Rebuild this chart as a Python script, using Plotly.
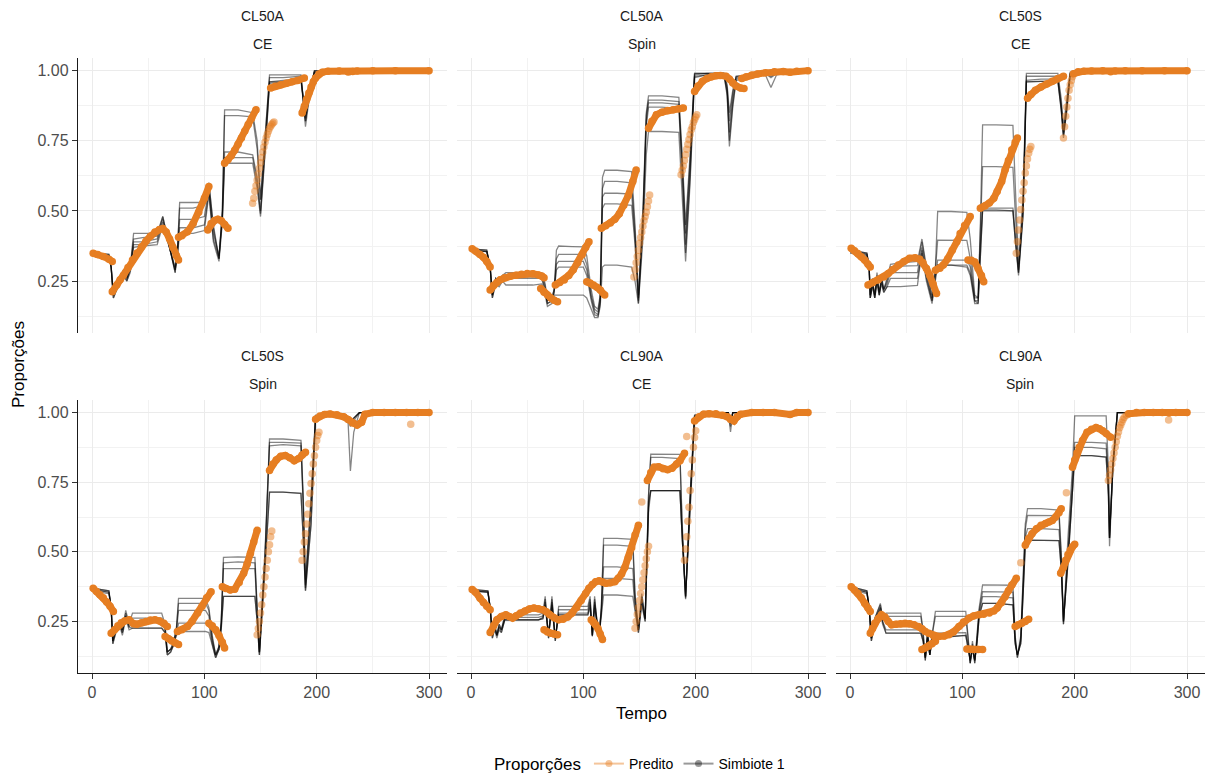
import plotly.graph_objects as go

W, H = 1219, 776
ORANGE = "#E67E22"
ORANGE_A = "rgba(230,126,34,0.5)"
GRAY = "rgba(0,0,0,0.48)"

FACET_TOP = ["CL50A", "CL50A", "CL50S", "CL50S", "CL90A", "CL90A"]
FACET_BOT = ["CE", "Spin", "CE", "Spin", "CE", "Spin"]
X_TICKS = [0, 100, 200, 300]
Y_TICKS = [0.25, 0.50, 0.75, 1.00]
Y_TICK_TEXT = ["0.25", "0.50", "0.75", "1.00"]

# ---------------- Panel 1: CL50A / CE ----------------
G1_T = [0, 15, 17, 19, 22, 25, 28, 31, 34, 37,
        45, 58, 63, 74, 76, 78, 90, 100, 104, 108,
        113, 116, 118, 130, 143, 147, 150, 155, 158, 170,
        186, 190, 194, 198, 228, 230, 232, 300]
G1_Y = [
    [.35, .345, .30, .20, .24, .25, .29, .26, .30, .42,
     .42, .42, .48, .28, .36, .53, .53, .53, .60, .45,
     .33, .50, .86, .86, .85, .75, .54, .80, .985, .985,
     .985, .80, .92, 1.0, 1.0, .985, 1.0, 1.0],
    [.35, .345, .30, .20, .24, .25, .29, .26, .30, .40,
     .405, .41, .48, .28, .36, .51, .51, .52, .60, .44,
     .33, .50, .84, .84, .835, .72, .54, .80, .975, .975,
     .98, .82, .93, 1.0, 1.0, .99, 1.0, 1.0],
    [.345, .34, .30, .20, .23, .25, .28, .26, .29, .39,
     .39, .40, .47, .29, .35, .47, .47, .48, .58, .42,
     .34, .48, .71, .71, .70, .62, .50, .78, .96, .965,
     .97, .84, .94, .995, 1.0, .99, 1.0, 1.0],
    [.345, .34, .30, .19, .22, .24, .28, .25, .29, .38,
     .38, .39, .46, .29, .35, .44, .44, .45, .57, .40,
     .33, .47, .69, .69, .69, .60, .49, .77, .96, .96,
     .97, .83, .94, .995, 1.0, .99, 1.0, 1.0],
    [.345, .34, .30, .19, .22, .24, .27, .25, .28, .37,
     .375, .38, .45, .30, .34, .42, .42, .43, .56, .39,
     .32, .46, .67, .67, .67, .58, .48, .76, .955, .96,
     .965, .82, .93, .995, 1.0, .99, 1.0, 1.0],
]
P1_SEGS = [
    ([1, 5, 10, 15, 18], [.349, .345, .338, .328, .320], "s"),
    ([18, 22, 25, 28, 32, 36, 40, 44, 48, 52, 56, 60, 63, 66, 69, 72, 75, 77],
     [.212, .236, .255, .271, .298, .325, .35, .372, .392, .41, .425, .434, .437, .425, .40, .37, .34, .325], "s"),
    ([77, 80, 85, 90, 95, 100, 104], [.406, .412, .426, .455, .495, .545, .587], "s"),
    ([103, 106, 109, 112, 115, 118, 121], [.432, .455, .466, .47, .465, .452, .438], "s"),
    ([118, 121, 124, 127, 130, 133, 136, 139, 142, 146],
     [.670, .682, .697, .716, .738, .760, .785, .808, .830, .861], "s"),
    ([143, 144, 145, 146, 147, 148, 149, 150, 151, 152, 153, 154, 155, 156, 157, 158, 159, 160, 161, 162],
     [.527, .545, .57, .59, .61, .632, .652, .672, .69, .71, .728, .745, .76, .772, .784, .795, .802, .808, .813, .817], "p"),
    ([159, 163, 168, 173, 178, 183, 189], [.938, .944, .95, .955, .96, .965, .974], "s"),
    ([187, 189, 191, 193, 195, 197, 199, 202, 205, 210, 220, 228, 232, 236, 250, 270, 300],
     [.849, .873, .898, .92, .942, .96, .974, .988, .994, .998, .999, .995, .997, .999, 1.0, 1.0, 1.0], "s"),
]

# ---------------- Panel 2: CL50A / Spin ----------------
G2_T = [0, 14, 17, 19, 22, 25, 28, 31, 40, 55,
        63, 66, 68, 72, 74, 76, 78, 90, 100, 103,
        107, 110, 113, 115, 117, 119, 130, 143, 146, 149,
        153, 156, 158, 170, 185, 188, 191, 195, 199, 210,
        225, 228, 230, 233, 236, 262, 267, 272, 300]
G2_Y = [
    [.365, .36, .30, .20, .26, .25, .27, .28, .28, .28,
     .28, .24, .18, .19, .22, .36, .375, .373, .372, .34,
     .22, .16, .15, .20, .62, .645, .645, .64, .45, .20,
     .50, .85, .91, .91, .905, .70, .45, .70, .99, .99,
     .99, .95, .85, .93, .98, .99, .99, .99, 1.0],
    [.365, .36, .30, .20, .26, .25, .27, .27, .275, .275,
     .275, .23, .18, .19, .22, .33, .345, .345, .345, .31,
     .20, .15, .14, .19, .58, .605, .605, .60, .42, .19,
     .48, .84, .895, .895, .89, .68, .42, .68, .99, .99,
     .99, .94, .82, .92, .98, .99, .99, .99, 1.0],
    [.36, .355, .30, .20, .25, .24, .26, .265, .265, .265,
     .265, .22, .17, .18, .21, .31, .32, .32, .32, .29,
     .19, .14, .13, .18, .55, .563, .563, .56, .40, .18,
     .46, .82, .885, .885, .88, .65, .38, .65, .985, .99,
     .99, .93, .78, .90, .975, .99, .98, .99, 1.0],
    [.36, .355, .30, .19, .25, .24, .26, .26, .26, .26,
     .26, .21, .17, .18, .21, .29, .30, .30, .30, .27,
     .18, .13, .125, .17, .51, .525, .525, .52, .38, .17,
     .44, .80, .87, .87, .865, .62, .35, .62, .98, .985,
     .99, .92, .75, .88, .97, .99, .975, .99, 1.0],
    [.36, .355, .30, .19, .24, .23, .25, .236, .236, .236,
     .24, .20, .16, .17, .20, .20, .20, .20, .20, .19,
     .15, .12, .12, .16, .30, .307, .307, .30, .25, .17,
     .40, .70, .783, .783, .78, .55, .32, .60, .975, .985,
     .99, .91, .73, .87, .965, .985, .94, .985, 1.0],
]
P2_SEGS = [
    ([1, 4, 8, 11, 14, 17], [.365, .357, .345, .335, .32, .30], "s"),
    ([17, 20, 23, 26, 30, 35, 40, 45, 50, 55, 60, 63, 65],
     [.218, .235, .245, .255, .262, .267, .271, .274, .277, .276, .272, .268, .262], "s"),
    ([62, 65, 68, 71, 74, 77], [.224, .21, .20, .19, .182, .176], "s"),
    ([75, 79, 83, 87, 91, 95, 99, 102, 105], [.236, .245, .254, .27, .29, .315, .345, .37, .39], "s"),
    ([103, 106, 109, 112, 115, 119], [.248, .243, .236, .228, .218, .20], "s"),
    ([116, 120, 124, 128, 132, 136, 140, 144, 147], [.438, .447, .457, .47, .49, .52, .555, .605, .646], "s"),
    ([145, 146, 147, 148, 149, 150, 151, 152, 153, 154, 155, 156, 157, 158, 159],
     [.265, .29, .315, .338, .36, .385, .405, .425, .445, .465, .48, .495, .515, .535, .557], "p"),
    ([158, 161, 165, 170, 175, 180, 185, 189], [.795, .82, .843, .852, .858, .861, .864, .867], "s"),
    ([187, 188, 189, 190, 191, 192, 193, 194, 195, 196, 197, 198, 199, 200, 201],
     [.629, .645, .66, .68, .70, .72, .738, .755, .772, .789, .80, .815, .825, .835, .843], "p"),
    ([199, 202, 206, 210, 214, 218, 222, 227, 230, 233, 236, 240, 243],
     [.926, .945, .962, .972, .978, .982, .983, .98, .97, .956, .945, .938, .936], "s"),
    ([241, 245, 250, 255, 262, 270, 278, 284, 290, 300],
     [.972, .978, .984, .988, .992, .996, .997, .994, .998, 1.0], "s"),
]

# ---------------- Panel 3: CL50S / CE ----------------
G3_T = [0, 15, 17, 18, 20, 22, 24, 26, 28, 30,
        33, 36, 45, 60, 64, 68, 73, 76, 78, 90,
        104, 107, 111, 114, 116, 118, 130, 145, 147, 150,
        154, 157, 170, 185, 188, 190, 193, 196, 230, 232,
        234, 300]
G3_Y = [
    [.36, .35, .30, .20, .26, .19, .28, .20, .27, .22,
     .26, .31, .315, .32, .40, .30, .20, .30, .498, .498,
     .495, .40, .20, .19, .45, .807, .807, .805, .60, .31,
     .55, .99, .99, .99, .90, .80, .90, .995, 1.0, .99,
     1.0, 1.0],
    [.36, .35, .30, .20, .25, .20, .27, .21, .26, .22,
     .25, .30, .303, .305, .39, .29, .19, .29, .396, .396,
     .395, .33, .19, .19, .40, .658, .658, .655, .50, .29,
     .52, .98, .98, .98, .88, .78, .88, .99, 1.0, .99,
     1.0, 1.0],
    [.355, .345, .30, .19, .24, .20, .26, .21, .25, .22,
     .24, .28, .28, .28, .37, .27, .18, .28, .325, .325,
     .325, .30, .18, .18, .38, .51, .51, .51, .42, .28,
     .50, .965, .97, .97, .87, .77, .87, .99, 1.0, .99,
     1.0, 1.0],
    [.355, .345, .30, .19, .24, .19, .25, .20, .25, .21,
     .23, .23, .23, .235, .36, .26, .18, .27, .307, .307,
     .307, .28, .18, .17, .36, .504, .504, .50, .40, .28,
     .49, .96, .962, .962, .86, .77, .86, .985, 1.0, .99,
     1.0, 1.0],
    [.35, .34, .30, .19, .23, .19, .24, .20, .24, .21,
     .23, .26, .26, .26, .35, .25, .17, .26, .307, .307,
     .30, .27, .17, .17, .35, .50, .50, .50, .40, .27,
     .48, .96, .962, .962, .86, .76, .86, .985, 1.0, .99,
     1.0, 1.0],
]
P3_SEGS = [
    ([1, 4, 7, 10, 13, 16, 18], [.367, .358, .348, .337, .325, .31, .30], "s"),
    ([16, 20, 25, 30, 34, 38, 43, 48, 53, 58, 62, 65, 68, 71, 74, 77],
     [.236, .244, .254, .265, .277, .29, .307, .32, .331, .333, .328, .315, .295, .27, .24, .206], "s"),
    ([76, 80, 83, 87, 91, 95, 98, 102, 107], [.289, .296, .307, .33, .36, .39, .42, .448, .48], "s"),
    ([105, 108, 111, 114, 117, 119], [.325, .324, .318, .295, .27, .248], "s"),
    ([116, 120, 124, 128, 131, 135, 138, 141, 144, 147, 149],
     [.51, .518, .528, .545, .569, .605, .646, .68, .718, .745, .76], "s"),
    ([148, 149, 150, 151, 152, 153, 154, 155, 156, 157, 158, 159, 160, 161],
     [.349, .39, .432, .468, .505, .539, .57, .60, .635, .66, .685, .706, .72, .73], "p"),
    ([158, 161, 165, 170, 175, 180, 185, 190], [.902, .915, .93, .942, .952, .962, .972, .98], "s"),
    ([190, 191, 192, 193, 194, 195, 196, 197, 198, 199],
     [.76, .80, .837, .87, .902, .93, .95, .965, .978, .989], "p"),
    ([199, 203, 208, 215, 225, 232, 236, 245, 260, 280, 300],
     [.989, .996, .998, .999, 1.0, .996, .999, 1.0, 1.0, 1.0, 1.0], "s"),
]

# ---------------- Panel 4: CL50S / Spin ----------------
G4_T = [0, 15, 17, 18.5, 22, 25, 27, 30, 33, 36,
        50, 62, 65, 67, 70, 72, 75, 77, 90, 101,
        104, 107, 110, 113, 115, 117, 130, 145, 147, 149,
        154, 158, 170, 186, 188, 190, 195, 199, 210, 226,
        228, 230, 233, 238, 300]
G4_Y = [
    [.37, .36, .30, .18, .24, .25, .22, .29, .24, .28,
     .28, .28, .24, .14, .15, .17, .22, .333, .333, .333,
     .30, .20, .13, .16, .25, .48, .482, .48, .30, .14,
     .50, .905, .905, .90, .70, .40, .70, .99, .99, .99,
     .98, .96, .98, 1.0, 1.0],
    [.37, .36, .30, .18, .24, .25, .22, .28, .24, .262,
     .262, .262, .23, .14, .15, .17, .22, .315, .315, .315,
     .29, .19, .13, .16, .25, .46, .464, .46, .29, .14,
     .49, .893, .893, .89, .68, .38, .68, .99, .99, .99,
     .98, .96, .98, 1.0, 1.0],
    [.365, .355, .30, .18, .23, .24, .21, .27, .23, .25,
     .25, .25, .22, .14, .15, .16, .21, .29, .29, .29,
     .27, .18, .13, .15, .24, .44, .44, .44, .28, .14,
     .48, .88, .885, .88, .66, .37, .66, .985, .99, .99,
     .97, .95, .97, 1.0, 1.0],
    [.365, .355, .30, .17, .23, .24, .21, .27, .23, .226,
     .226, .226, .21, .13, .14, .16, .20, .244, .244, .244,
     .24, .17, .12, .15, .23, .34, .34, .34, .25, .13,
     .45, .714, .714, .71, .55, .36, .60, .98, .99, .99,
     .96, .79, .93, 1.0, 1.0],
    [.36, .35, .30, .17, .22, .23, .20, .26, .22, .226,
     .226, .226, .21, .13, .14, .16, .20, .214, .214, .214,
     .21, .16, .12, .15, .22, .34, .34, .34, .25, .13,
     .44, .714, .714, .71, .55, .36, .60, .98, .99, .99,
     .97, .96, .98, 1.0, 1.0],
]
P4_SEGS = [
    ([1, 4, 7, 10, 13, 16, 19], [.369, .358, .346, .335, .32, .305, .286], "s"),
    ([17, 20, 23, 26, 29, 33, 37, 40, 44, 48, 52, 56, 60, 64, 67],
     [.208, .22, .235, .245, .252, .256, .242, .24, .245, .25, .255, .256, .252, .244, .232], "s"),
    ([65, 68, 71, 74, 77], [.196, .188, .18, .173, .167], "s"),
    ([76, 80, 85, 89, 94, 98, 102, 106], [.214, .22, .232, .25, .28, .305, .335, .357], "s"),
    ([104, 107, 110, 113, 116, 118], [.244, .235, .22, .20, .175, .155], "s"),
    ([116, 119, 123, 127, 131, 135, 138, 141, 144, 147],
     [.375, .368, .363, .366, .39, .423, .455, .494, .535, .577], "s"),
    ([147, 148, 149, 150, 151, 152, 153, 154, 155, 156, 157, 158, 159, 160],
     [.202, .225, .25, .28, .31, .345, .375, .41, .44, .47, .50, .525, .554, .575], "p"),
    ([158, 161, 164, 168, 172, 176, 180, 184, 187, 190],
     [.792, .815, .83, .843, .846, .838, .827, .835, .848, .857], "s"),
    ([187, 188, 189, 190, 191, 192, 193, 194, 195, 196, 197, 198, 199, 200, 201, 202],
     [.47, .50, .535, .565, .60, .635, .673, .71, .745, .78, .815, .845, .875, .90, .918, .929], "p"),
    ([199, 203, 207, 212, 218, 224, 228, 232, 236, 240, 243, 250, 260, 270, 280, 290, 300],
     [.976, .988, .993, .995, .992, .985, .975, .962, .955, .965, .994, 1.0, 1.0, 1.0, 1.0, 1.0, 1.0], "s"),
    ([283.7], [.958], "p"),
]

# ---------------- Panel 5: CL90A / CE ----------------
G5_T = [0, 15, 17, 19, 21, 23, 25, 27, 30, 45,
        60, 64, 66, 69, 72, 75, 78, 90, 104, 106,
        108, 110, 112, 114, 116, 118, 120, 130, 144, 146,
        149, 152, 155, 158, 160, 170, 186, 188, 191, 195,
        199, 210, 229, 231, 233, 300]
G5_Y = [
    [.365, .36, .30, .20, .24, .20, .24, .22, .274, .274,
     .274, .28, .34, .19, .34, .18, .304, .304, .304, .34,
     .196, .34, .25, .196, .30, .548, .548, .548, .545, .35,
     .22, .35, .26, .70, .851, .851, .85, .60, .333, .70,
     .99, 1.0, 1.0, .93, 1.0, 1.0],
    [.365, .36, .30, .20, .24, .20, .24, .22, .265, .265,
     .265, .27, .33, .19, .33, .18, .292, .292, .292, .33,
     .20, .33, .25, .20, .30, .524, .524, .524, .52, .34,
     .22, .34, .26, .70, .839, .839, .835, .58, .33, .70,
     .99, 1.0, 1.0, .95, 1.0, 1.0],
    [.36, .355, .30, .20, .23, .20, .23, .22, .256, .256,
     .256, .265, .32, .20, .32, .19, .28, .28, .28, .32,
     .20, .32, .25, .20, .29, .446, .446, .446, .44, .32,
     .22, .33, .26, .68, .72, .72, .72, .55, .34, .68,
     .985, 1.0, 1.0, .96, 1.0, 1.0],
    [.36, .355, .30, .19, .23, .20, .23, .21, .256, .256,
     .256, .26, .31, .20, .31, .19, .274, .274, .274, .31,
     .20, .31, .24, .20, .28, .405, .405, .405, .40, .30,
     .21, .32, .25, .66, .72, .72, .72, .55, .34, .66,
     .985, 1.0, 1.0, .97, 1.0, 1.0],
    [.36, .355, .30, .19, .22, .19, .22, .21, .256, .256,
     .256, .26, .30, .20, .30, .19, .274, .274, .274, .30,
     .20, .30, .24, .20, .27, .345, .345, .345, .34, .28,
     .21, .31, .25, .64, .72, .72, .72, .55, .34, .64,
     .985, 1.0, 1.0, .97, 1.0, 1.0],
]
P5_SEGS = [
    ([1, 4, 8, 11, 14, 17], [.365, .355, .333, .318, .305, .292], "s"),
    ([17, 20, 23, 27, 31, 34, 37, 40, 44, 48, 52, 56, 60, 64, 67, 70, 74, 78, 82, 86,
      90, 94, 98, 102, 105, 108, 111, 114, 117, 120, 124, 128, 131, 134, 137, 140, 143, 146, 149],
     [.21, .235, .256, .268, .274, .268, .262, .27, .28, .288, .295, .298, .296, .292, .285, .274, .263, .256, .258, .266,
      .28, .30, .325, .35, .369, .383, .393, .396, .392, .387, .389, .393, .405, .42, .445, .48, .515, .56, .595], "s"),
    ([65, 68, 71, 74, 77], [.22, .212, .208, .205, .202], "s"),
    ([107, 109, 111, 113, 115, 117], [.256, .248, .238, .225, .205, .185], "s"),
    ([146, 147, 148, 149, 150, 151, 152, 153, 154, 155, 156, 157, 158],
     [.226, .25, .275, .30, .325, .35, .375, .40, .425, .45, .475, .50, .52], "p"),
    ([152], [.679], "p"),
    ([157, 160, 163, 167, 171, 175, 179, 183, 186, 190],
     [.756, .785, .804, .805, .798, .795, .80, .815, .827, .854], "s"),
    ([190, 191, 192, 193, 194, 195, 196, 197, 198, 199, 200],
     [.47, .51, .554, .61, .66, .72, .78, .83, .875, .91, .935], "p"),
    ([192], [.914], "p"),
    ([199, 203, 207, 212, 218, 224, 228, 231, 234, 237, 240, 250, 260, 270, 284, 290, 300],
     [.97, .985, .994, .996, .996, .99, .985, .975, .97, .985, .994, 1.0, 1.0, 1.0, .993, 1.0, 1.0], "s"),
]

# ---------------- Panel 6: CL90A / Spin ----------------
G6_T = [0, 15, 17, 19, 22, 27, 29, 32, 45, 63,
        65, 67, 69, 71, 73, 76, 78, 90, 103, 105,
        107, 109, 111, 113, 115, 118, 120, 130, 145, 147,
        149, 152, 154, 156, 158, 170, 186, 188, 190, 194,
        198, 200, 215, 228, 230, 231, 234, 238, 300]
G6_Y = [
    [.375, .36, .30, .19, .26, .315, .26, .28, .28, .28,
     .22, .11, .22, .13, .20, .286, .286, .286, .286, .20,
     .10, .18, .10, .20, .30, .381, .381, .381, .38, .20,
     .12, .20, .40, .60, .655, .655, .65, .50, .24, .55,
     .80, .988, .988, .988, .80, .52, .80, 1.0, 1.0],
    [.375, .36, .30, .19, .26, .31, .26, .268, .268, .268,
     .21, .11, .21, .13, .20, .268, .268, .268, .268, .19,
     .10, .17, .10, .19, .29, .357, .357, .357, .355, .19,
     .12, .19, .38, .58, .631, .631, .63, .48, .24, .50,
     .75, .893, .893, .89, .78, .55, .82, 1.0, 1.0],
    [.37, .355, .30, .19, .25, .30, .25, .22, .22, .22,
     .19, .12, .20, .13, .19, .208, .208, .208, .21, .17,
     .10, .16, .11, .18, .28, .339, .339, .339, .335, .18,
     .13, .18, .36, .55, .583, .583, .58, .46, .25, .48,
     .72, .875, .875, .87, .75, .55, .82, 1.0, 1.0],
    [.37, .355, .30, .18, .25, .30, .25, .208, .208, .208,
     .18, .12, .19, .13, .18, .196, .196, .196, .20, .16,
     .11, .15, .11, .17, .27, .315, .315, .315, .31, .17,
     .13, .17, .34, .52, .542, .542, .54, .44, .25, .46,
     .70, .845, .845, .84, .70, .55, .80, 1.0, 1.0],
    [.365, .35, .30, .18, .24, .29, .24, .208, .208, .208,
     .18, .12, .19, .13, .18, .196, .196, .196, .20, .16,
     .11, .15, .11, .17, .27, .315, .315, .315, .31, .17,
     .13, .17, .34, .52, .542, .542, .54, .44, .25, .46,
     .70, .845, .845, .84, .70, .55, .80, 1.0, 1.0],
]
P6_SEGS = [
    ([1, 4, 7, 10, 13, 16, 18], [.375, .363, .351, .335, .315, .298, .286], "s"),
    ([18, 20, 22, 25, 28, 31, 34, 37, 41, 45, 49, 53, 57, 61, 64, 67],
     [.208, .225, .244, .26, .274, .266, .25, .238, .24, .242, .244, .242, .238, .232, .224, .214], "s"),
    ([64, 67, 70, 73, 76], [.149, .155, .161, .17, .179], "s"),
    ([70, 74, 79, 84, 88, 92, 97, 101, 106, 110, 115, 119, 124, 128, 131, 135, 138, 141, 144, 148],
     [.208, .2, .196, .198, .202, .212, .232, .248, .262, .27, .274, .276, .28, .288, .298, .318, .339, .36, .381, .405], "s"),
    ([104, 107, 110, 114, 118], [.151, .15, .149, .149, .149], "s"),
    ([147, 150, 153, 156, 159], [.232, .238, .244, .25, .258], "s"),
    ([152], [.461], "p"),
    ([156, 159, 162, 166, 170, 174, 177, 180, 183, 186, 188],
     [.524, .548, .565, .583, .595, .602, .607, .612, .625, .64, .655], "s"),
    ([192.6], [.712], "p"),
    ([187.5, 190, 192, 194, 196, 198, 200], [.423, .445, .47, .49, .506, .518, .527], "s"),
    ([198, 200, 202, 204, 207, 211, 215, 219, 222, 225, 228, 232],
     [.804, .83, .855, .875, .9, .929, .94, .946, .942, .935, .925, .911], "s"),
    ([230, 231, 232, 233, 234, 235, 236, 237, 238, 239, 240, 241, 242, 243, 244, 246, 248],
     [.756, .775, .795, .815, .835, .855, .875, .895, .915, .93, .945, .955, .965, .975, .982, .99, .996], "p"),
    ([248, 255, 262, 270, 278, 284, 290, 300], [.996, 1.0, 1.0, 1.0, 1.0, .998, 1.0, 1.0], "s"),
    ([283.6], [.973], "p"),
]

GRAY_T = [G1_T, G2_T, G3_T, G4_T, G5_T, G6_T]
GRAY_Y = [G1_Y, G2_Y, G3_Y, G4_Y, G5_Y, G6_Y]
PRED = [P1_SEGS, P2_SEGS, P3_SEGS, P4_SEGS, P5_SEGS, P6_SEGS]

for gt, gys in zip(GRAY_T, GRAY_Y):
    for gy in gys:
        assert len(gt) == len(gy), (len(gt), len(gy))
for segs in PRED:
    for st, sy, _ in segs:
        assert len(st) == len(sy)

# ---------------- layout geometry (pixels) ----------------
XDOM = [(78, 447), (457, 826), (836, 1205)]
YDOM = [(58, 333), (400, 673)]
XRANGE = [-12.5, 316]
YRANGE = [0.065, 1.045]

FONT = "Liberation Sans, Arial, sans-serif"
fig = go.Figure()
TICK_FONT = dict(family=FONT, size=16, color="#4D4D4D")

for k in range(6):
    r, c = divmod(k, 3)
    sfx = "" if k == 0 else str(k + 1)
    xa, ya = "x" + sfx, "y" + sfx
    for gy in GRAY_Y[k]:
        fig.add_trace(go.Scatter(x=GRAY_T[k], y=gy, mode="lines",
                                 line=dict(color=GRAY, width=1.3),
                                 xaxis=xa, yaxis=ya, showlegend=False, hoverinfo="skip"))
    for st, sy, kind in PRED[k]:
        if kind == "s":
            fig.add_trace(go.Scatter(x=st, y=sy, mode="lines+markers",
                                     line=dict(color=ORANGE, width=7),
                                     marker=dict(color=ORANGE, size=7.5, line=dict(width=0)),
                                     xaxis=xa, yaxis=ya, showlegend=False, hoverinfo="skip"))
        else:
            fig.add_trace(go.Scatter(x=st, y=sy, mode="markers",
                                     marker=dict(color=ORANGE_A, size=7.5, line=dict(width=0)),
                                     xaxis=xa, yaxis=ya, showlegend=False, hoverinfo="skip"))
    x0, x1 = XDOM[c]
    y0, y1 = YDOM[r]
    bottom = (r == 1)
    left = (c == 0)
    fig.layout["xaxis" + sfx] = dict(
        domain=[x0 / W, x1 / W], range=XRANGE, anchor=ya,
        tickvals=X_TICKS, showticklabels=bottom, tickfont=TICK_FONT,
        showgrid=True, gridcolor="#EBEBEB", gridwidth=1.1, zeroline=False,
        showline=bottom, linecolor="#1A1A1A", linewidth=1.4,
        ticks="outside" if bottom else "", ticklen=5, tickcolor="#333333", tickwidth=1.1,
        minor=dict(tickvals=[50, 150, 250], showgrid=True, gridcolor="#F2F2F2", gridwidth=0.8, ticks=""),
        fixedrange=True,
    )
    fig.layout["yaxis" + sfx] = dict(
        domain=[1 - y1 / H, 1 - y0 / H], range=YRANGE, anchor=xa,
        tickvals=Y_TICKS, ticktext=Y_TICK_TEXT, showticklabels=left, tickfont=TICK_FONT,
        showgrid=True, gridcolor="#EBEBEB", gridwidth=1.1, zeroline=False,
        showline=left, linecolor="#1A1A1A", linewidth=1.4,
        ticks="outside" if left else "", ticklen=5, tickcolor="#333333", tickwidth=1.1,
        minor=dict(tickvals=[0.125, 0.375, 0.625, 0.875], showgrid=True, gridcolor="#F2F2F2", gridwidth=0.8, ticks=""),
        fixedrange=True,
    )
    cx = (x0 + x1) / 2 / W
    ytop = [16, 356][r]
    ybot = [44, 384][r]
    for txt, yp in ((FACET_TOP[k], ytop), (FACET_BOT[k], ybot)):
        fig.add_annotation(x=cx, y=1 - yp / H, xref="paper", yref="paper", text=txt,
                           showarrow=False, xanchor="center", yanchor="middle",
                           font=dict(family=FONT, size=14, color="#1A1A1A"))

# axis titles
fig.add_annotation(x=641 / W, y=1 - 713 / H, xref="paper", yref="paper", text="Tempo",
                   showarrow=False, xanchor="center", yanchor="middle",
                   font=dict(family=FONT, size=17, color="#000000"))
fig.add_annotation(x=18 / W, y=1 - 365 / H, xref="paper", yref="paper", text="Proporções",
                   showarrow=False, xanchor="center", yanchor="middle", textangle=-90,
                   font=dict(family=FONT, size=17, color="#000000"))

# legend-only traces
fig.add_trace(go.Scatter(x=[None], y=[None], mode="lines+markers", name="Predito",
                         line=dict(color="rgba(230,126,34,0.45)", width=2),
                         marker=dict(color="rgba(230,126,34,0.45)", size=7)))
fig.add_trace(go.Scatter(x=[None], y=[None], mode="lines+markers", name="Simbiote 1",
                         line=dict(color="rgba(0,0,0,0.4)", width=2),
                         marker=dict(color="rgba(0,0,0,0.4)", size=7)))

fig.update_layout(
    width=W, height=H, margin=dict(l=0, r=0, t=0, b=0, autoexpand=False),
    paper_bgcolor="white", plot_bgcolor="white",
    font=dict(family=FONT, color="#000000"),
    showlegend=True,
    legend=dict(orientation="h", x=641 / W, xanchor="center", y=-5 / H, yanchor="bottom",
                title=dict(text="Proporções", side="left",
                           font=dict(family=FONT, size=17, color="#000000")),
                font=dict(family=FONT, size=14, color="#000000"),
                bgcolor="rgba(0,0,0,0)", itemwidth=30),
)

fig.write_html("out.html")
